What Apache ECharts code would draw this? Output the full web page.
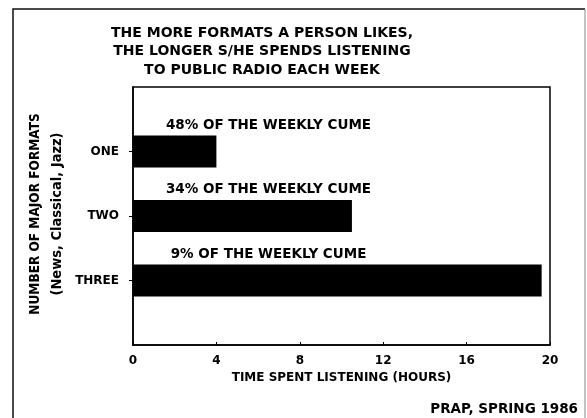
<!DOCTYPE html>
<html>
<head>
<meta charset="utf-8">
<script src="https://cdn.jsdelivr.net/npm/echarts@6/dist/echarts.min.js"></script>
<style>
    html, body { margin: 0; padding: 0; background: #fff; }
    #main { width: 587px; height: 418px; }
</style>
</head>
<body>
<div id="main"></div>
<script>
// 数据
var categories = ['ONE', 'TWO', 'THREE'];
var hoursListened = [4.0, 10.5, 19.6];
var cumeShare = [48, 34, 9];
var titleLines = ['THE MORE FORMATS A PERSON LIKES,', 'THE LONGER S/HE SPENDS LISTENING', 'TO PUBLIC RADIO EACH WEEK'];

var LABEL_X = 6.5; // where the "% of cume" notes sit along the hour axis
var FONT = 'DejaVu Sans';
var NARROW = 'DejaVu Sans Condensed';

var myChart = echarts.init(document.getElementById('main'));

// category axis padded with an empty slot on each end so bars sit at 1/4, 2/4, 3/4
var yData = [''].concat(categories, ['']);
var barData = ['-'].concat(hoursListened, ['-']);
var noteData = categories.map(function (c, i) {
    return [LABEL_X, c];
});

var option = {
    backgroundColor: '#fff',
    animation: false,
    graphic: [{
        // outer frame: top/left dark, right side faded like the scan
        type: 'polyline',
        shape: { points: [[13, 430], [13, 9], [585, 9]] },
        style: { fill: 'none', stroke: '#111', lineWidth: 1.5 }
    }, {
        type: 'line',
        shape: { x1: 585, y1: 9, x2: 585, y2: 430 },
        style: { stroke: '#888', lineWidth: 1 }
    }, {
        type: 'text',
        x: 262,
        y: 24,
        style: {
            text: titleLines.join('\n'),
            fill: '#000',
            font: 'bold 14px "' + FONT + '"',
            lineHeight: 18.5,
            align: 'center'
        }
    }, {
        type: 'text',
        x: 46,
        y: 214,
        rotation: Math.PI / 2,
        style: {
            text: '{a|NUMBER OF MAJOR FORMATS}\n{b|(News, Classical, Jazz)}',
            fill: '#000',
            align: 'center',
            verticalAlign: 'middle',
            rich: {
                a: { fontFamily: NARROW, fontWeight: 'bold', fontSize: 13.5, lineHeight: 22 },
                b: { fontFamily: NARROW, fontWeight: 'bold', fontSize: 14.5, lineHeight: 22 }
            }
        }
    }, {
        type: 'text',
        x: 578,
        y: 402,
        style: {
            text: 'PRAP, SPRING 1986',
            fill: '#000',
            font: 'bold 13.5px "' + FONT + '"',
            align: 'right'
        }
    }],
    grid: {
        left: 133,
        top: 87,
        width: 417,
        height: 258,
        show: true,
        borderColor: '#000',
        borderWidth: 1.5,
        containLabel: false
    },
    xAxis: {
        type: 'value',
        min: 0,
        max: 20,
        interval: 4,
        name: 'TIME SPENT LISTENING (HOURS)',
        nameLocation: 'middle',
        nameGap: 22,
        nameTextStyle: {
            color: '#000',
            fontFamily: FONT,
            fontWeight: 'bold',
            fontSize: 12
        },
        axisLine: { show: true, lineStyle: { color: '#000', width: 1.5 } },
        axisTick: { show: true, inside: true, length: 3, lineStyle: { color: '#000' } },
        splitLine: { show: false },
        axisLabel: {
            color: '#000',
            fontFamily: FONT,
            fontWeight: 'bold',
            fontSize: 12,
            margin: 10
        }
    },
    yAxis: {
        type: 'category',
        inverse: true,
        boundaryGap: false,
        data: yData,
        axisLine: { show: true, lineStyle: { color: '#000', width: 1.5 } },
        axisTick: {
            show: true,
            length: 4,
            interval: function (index) {
                return index > 0 && index < yData.length - 1;
            },
            lineStyle: { color: '#000' }
        },
        axisLabel: {
            color: '#000',
            fontFamily: FONT,
            fontWeight: 'bold',
            fontSize: 12,
            margin: 14
        }
    },
    series: [{
        type: 'bar',
        data: barData,
        barWidth: 32,
        itemStyle: { color: '#000' }
    }, {
        type: 'scatter',
        data: noteData,
        symbolSize: 1,
        itemStyle: { color: 'rgba(0,0,0,0)', opacity: 1 },
        silent: true,
        label: {
            show: true,
            position: 'top',
            distance: 0,
            offset: [0, -19],
            color: '#000',
            fontFamily: FONT,
            fontWeight: 'bold',
            fontSize: 13.5,
            formatter: function (p) {
                return cumeShare[p.dataIndex] + '% OF THE WEEKLY CUME';
            }
        }
    }]
};

myChart.setOption(option);
</script>
</body>
</html>
